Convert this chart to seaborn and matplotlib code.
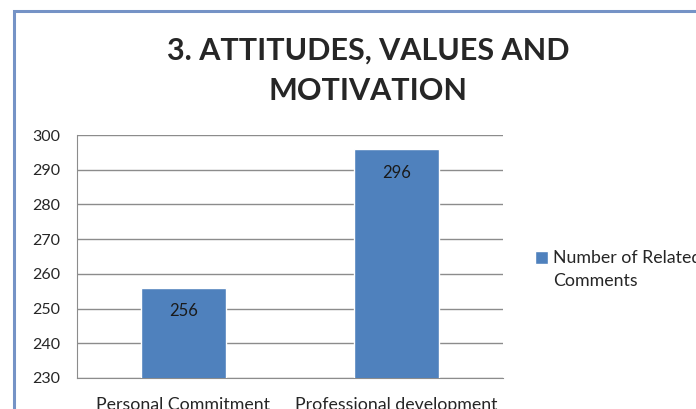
import matplotlib
matplotlib.use('Agg')
import matplotlib.pyplot as plt
import pandas as pd
import seaborn as sns
from matplotlib.patches import Rectangle

# Chart data
categories = ['Personal Commitment', 'Professional development']
comment_counts = [256, 296]
series_name = 'Number of Related Comments'
legend_lines = ['Number of Related', 'Comments']
y_ticks = [230, 240, 250, 260, 270, 280, 290, 300]
title_text = '3. ATTITUDES, VALUES AND\nMOTIVATION'

bar_color = '#4F81BD'
grid_color = '#8C8C8C'

sns.set_style('white')
plt.rcParams['font.family'] = ['Lato', 'DejaVu Sans']

df = pd.DataFrame({'category': categories, 'count': comment_counts, 'series': series_name})

fig = plt.figure(figsize=(6.96, 4.09), dpi=100)
ax = fig.add_axes([0.1106, 0.0758, 0.6121, 0.5941])

sns.barplot(data=df, x='category', y='count', hue='series', palette=[bar_color],
            width=0.4, ax=ax, saturation=1, zorder=3)

ax.set_ylim(230, 300)
ax.set_xlim(-0.5, len(categories) - 0.5)
ax.set_yticks(y_ticks)
ax.yaxis.grid(True, color=grid_color, linewidth=1)
ax.set_axisbelow(True)
ax.set_xlabel('')
ax.set_ylabel('')

for side in ['top', 'right']:
    ax.spines[side].set_visible(False)
ax.spines['left'].set_color(grid_color)
ax.spines['bottom'].set_color(grid_color)

# y ticks point left, x ticks sit between categories
ax.tick_params(axis='y', direction='out', length=7, color=grid_color, labelsize=11.5, pad=5)
ax.set_xticks([i for i in range(len(categories))])
ax.set_xticklabels(categories, fontsize=12.8)
ax.tick_params(axis='x', length=0, pad=14)
ax.set_xticks([-0.5, 0.5, 1.5], minor=True)
ax.tick_params(axis='x', which='minor', direction='out', length=6, color=grid_color)

# data labels inside the bars
for container in ax.containers:
    for bar, val in zip(container, comment_counts):
        ax.annotate(str(val), (bar.get_x() + bar.get_width() / 2, bar.get_height()),
                    xytext=(0, -17), textcoords='offset points',
                    ha='center', va='center', fontsize=12, color='#1a1a1a')

# legend: square sits beside the first line, second line wraps under the text
leg = ax.legend(loc='upper left', bbox_to_anchor=(0.768, 0.388), bbox_transform=fig.transFigure,
                frameon=False, fontsize=12.8, handlelength=0.75, handleheight=0.75,
                handletextpad=0.3, borderpad=0, borderaxespad=0)
leg.get_texts()[0].set_text(legend_lines[0])
fig.canvas.draw()
bb = leg.get_texts()[0].get_window_extent()
fig.text(bb.x0 / fig.bbox.width, (bb.y0 - 23) / fig.bbox.height, legend_lines[1],
         ha='left', va='bottom', fontsize=12.8)

fig.text(0.529, 0.827, title_text, ha='center', va='center', fontsize=22,
         fontweight='bold', linespacing=1.55)

# outer chart frame (cropped at right and bottom)
fig.patches.append(Rectangle((14 / 696, -0.1), 1.2, 1.1 - 11 / 409, transform=fig.transFigure,
                             fill=False, edgecolor='#7593C6', linewidth=2.2))

fig.savefig('out.png', dpi=100)
